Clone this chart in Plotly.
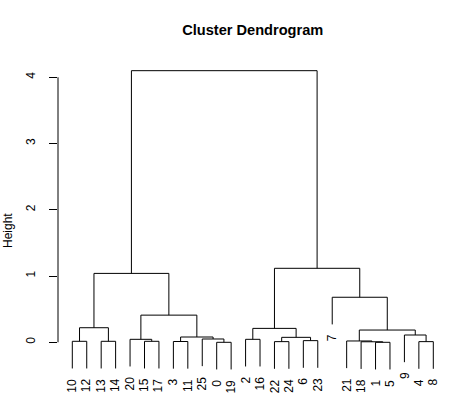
import plotly.graph_objects as go

# ---- data ----
leaf_labels = ["10", "12", "13", "14", "20", "15", "17", "3", "11", "25", "0", "19",
               "2", "16", "22", "24", "6", "23", "7", "21", "18", "1", "5", "9", "4", "8"]

# merges: children are leaf labels (str) or earlier merge ids ("m#"); heights
merge_left = ["0", "1", "18", "21", "10", "13", "15", "3", "22", "4", "6", "20", "2", "25",
              "m8", "m7", "9", "m3", "m12", "m4", "m11", "7", "m19", "m18", "m22"]
merge_right = ["19", "5", "m1", "m2", "12", "14", "17", "11", "24", "8", "23", "m6", "16", "m0",
               "m10", "m13", "m9", "m16", "m14", "m5", "m15", "m17", "m20", "m21", "m23"]
merge_height = [0.0, 0.0, 0.008, 0.02, 0.015, 0.015, 0.015, 0.012, 0.01, 0.01, 0.025, 0.045,
                0.045, 0.05, 0.075, 0.08, 0.11, 0.185, 0.21, 0.22, 0.41, 0.68, 1.04, 1.117, 4.10]

y_ticks = [0, 1, 2, 3, 4]
hang = 0.1

# ---- compute dendrogram geometry ----
max_h = max(merge_height)
drop = hang * max_h
pos = {lab: float(i) for i, lab in enumerate(leaf_labels)}
node_x = {}
node_h = {}
xs, ys = [], []
leaf_bottom = {}


def child_xy(c, parent_h):
    if c.startswith("m"):
        return node_x[c], node_h[c]
    yb = parent_h - drop
    leaf_bottom[c] = yb
    return pos[c], yb


for k, (a, b, h) in enumerate(zip(merge_left, merge_right, merge_height)):
    xa, ya = child_xy(a, h)
    xb, yb = child_xy(b, h)
    xs += [xa, xa, xb, xb, None]
    ys += [ya, h, h, yb, None]
    node_x["m%d" % k] = (xa + xb) / 2
    node_h["m%d" % k] = h

FONT = "Liberation Sans, Arial, sans-serif"

fig = go.Figure()
fig.add_trace(go.Scatter(x=xs, y=ys, mode="lines",
                         line=dict(color="black", width=1), hoverinfo="skip",
                         showlegend=False))

annotations = []
for lab in leaf_labels:
    annotations.append(dict(x=pos[lab], y=leaf_bottom[lab], xref="x", yref="y",
                            text=lab, showarrow=False, textangle=-90,
                            xanchor="center", yanchor="top", yshift=-8,
                            font=dict(family=FONT, size=12, color="black")))

L, R, T, B = 58, 20, 50, 0
W, H = 468, 406
pw, ph = W - L - R, H - T - B

annotations.append(dict(x=(7.5 - L) / pw, y=(H - 230.5) / ph, xref="paper", yref="paper",
                        text="Height", showarrow=False, textangle=-90,
                        xanchor="center", yanchor="middle",
                        font=dict(family=FONT, size=12, color="black")))

# pixel mapping from picture: leaf i at 72.3 + 14.44*i ; height h at 342.3 - 66.25*h
x0 = (L - 72.3) / 14.44
x1 = x0 + pw / 14.44
y1 = (342.3 - T) / 66.25
y0 = y1 - ph / 66.25

fig.update_layout(
    width=W, height=H,
    margin=dict(l=L, r=R, t=T, b=B, pad=0),
    paper_bgcolor="white", plot_bgcolor="white",
    title=dict(text="<b>Cluster Dendrogram</b>", x=252.7 / W, xref="container",
               y=1 - 30 / H, yref="container", xanchor="center", yanchor="middle",
               font=dict(family=FONT, size=14.6, color="black")),
    xaxis=dict(range=[x0, x1], visible=False, fixedrange=True),
    yaxis=dict(range=[y0, y1], showgrid=False, zeroline=False, showline=False,
               tickmode="array", tickvals=y_ticks, ticktext=[str(t) for t in y_ticks],
               ticks="outside", ticklen=8, tickwidth=1, tickcolor="black",
               ticklabelstandoff=9,
               tickangle=-90, tickfont=dict(family=FONT, size=12, color="black"),
               fixedrange=True),
    shapes=[dict(type="line", xref="paper", yref="y", x0=0, x1=0,
                 y0=y_ticks[0], y1=y_ticks[-1], line=dict(color="black", width=1))],
    annotations=annotations,
    showlegend=False,
)

fig.write_html("out.html")
